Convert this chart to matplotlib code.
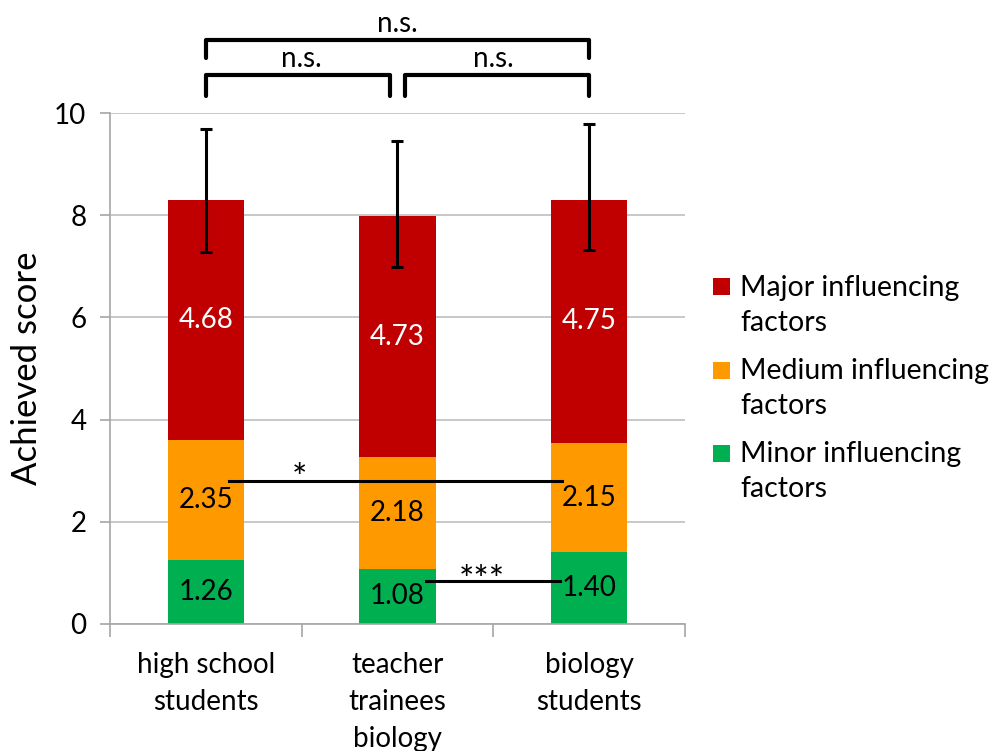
import matplotlib
matplotlib.use("Agg")
import matplotlib.pyplot as plt
from matplotlib.patches import Rectangle
import numpy as np

plt.rcParams['font.family'] = ['Lato', 'DejaVu Sans']

categories = ["high school\nstudents", "teacher\ntrainees\nbiology", "biology\nstudents"]
minor = [1.26, 1.08, 1.40]
medium = [2.35, 2.18, 2.15]
major = [4.68, 4.73, 4.75]
err_low = [1.01, 1.00, 0.99]
err_high = [1.40, 1.47, 1.49]
series_names = ["Major influencing\nfactors", "Medium influencing\nfactors", "Minor influencing\nfactors"]
colors = {"major": "#C00000", "medium": "#FF9900", "minor": "#00B050"}

fig = plt.figure(figsize=(9.94, 7.51), dpi=100)
ax = fig.add_axes([110/994, 1-624/751, 575/994, 511/751])

x = np.arange(len(categories))
w = 0.40
b1 = ax.bar(x, minor, w, color=colors["minor"], zorder=2)
bottom2 = np.array(minor)
b2 = ax.bar(x, medium, w, bottom=bottom2, color=colors["medium"], zorder=2)
bottom3 = bottom2 + np.array(medium)
b3 = ax.bar(x, major, w, bottom=bottom3, color=colors["major"], zorder=2)
totals = bottom3 + np.array(major)

ax.errorbar(x, totals, yerr=[err_low, err_high], fmt='none', ecolor='black',
            elinewidth=2.2, capsize=4, capthick=2.2, zorder=4)

fs = 20
for i in range(len(x)):
    ax.text(x[i], minor[i]/2, f"{minor[i]:.2f}", ha='center', va='center', fontsize=fs, color='black', zorder=5)
    ax.text(x[i], bottom2[i] + medium[i]/2, f"{medium[i]:.2f}", ha='center', va='center', fontsize=fs, color='black', zorder=5)
    ax.text(x[i], bottom3[i] + major[i]/2, f"{major[i]:.2f}", ha='center', va='center', fontsize=fs, color='white', zorder=5)

ax.set_xlim(-0.5, 2.5)
ax.set_ylim(0, 10)
ax.set_yticks([0, 2, 4, 6, 8, 10])
ax.yaxis.grid(True, color='#BFBFBF', linewidth=1.2, zorder=0)
ax.set_axisbelow(True)
for s in ['top', 'right']:
    ax.spines[s].set_visible(False)
for s in ['left', 'bottom']:
    ax.spines[s].set_color('#A6A6A6')
    ax.spines[s].set_linewidth(1.2)
ax.set_xticks([-0.5, 0.5, 1.5, 2.5])
ax.set_xticklabels([])
ax.tick_params(axis='x', which='major', length=9, color='#A6A6A6', width=1.2)
ax.tick_params(axis='y', length=7, color='#A6A6A6', width=1.2, labelsize=20, pad=10)
for i, c in enumerate(categories):
    ax.text(x[i], -0.55, c, ha='center', va='top', fontsize=20, linespacing=1.52,
            transform=ax.transData, clip_on=False)
ax.set_ylabel("Achieved score", fontsize=25, labelpad=8)

# significance lines inside plot
ax.plot([0.12, 1.86], [2.80, 2.80], color='black', lw=2.2, zorder=6)
ax.text(0.49, 2.82, "*", ha='center', va='center', fontsize=26, zorder=6)
ax.plot([1.15, 1.85], [0.84, 0.84], color='black', lw=2.2, zorder=6)
ax.text(1.44, 0.84, "***", ha='center', va='center', fontsize=26, zorder=6)

# brackets above
def bracket(x0, x1, ytop, ybot):
    ax.plot([x0, x0, x1, x1], [ybot, ytop, ytop, ybot], color='black', lw=3,
            clip_on=False, solid_joinstyle='round', solid_capstyle='round')

bracket(0.0, 1.0 - 0.04, 10.74, 10.33)
bracket(1.0 + 0.04, 2.0, 10.74, 10.33)
bracket(0.0, 2.0, 11.43, 11.08)
ax.text(0.5, 10.80, "n.s.", ha='center', va='bottom', fontsize=20, clip_on=False)
ax.text(1.5, 10.80, "n.s.", ha='center', va='bottom', fontsize=20, clip_on=False)
ax.text(1.0, 11.49, "n.s.", ha='center', va='bottom', fontsize=20, clip_on=False)

# legend (manual, marker aligned with first text line)
W, H = 994, 751
leg_colors = [colors["major"], colors["medium"], colors["minor"]]
first_line_y = [287, 370, 453]
for name, col, yy in zip(series_names, leg_colors, first_line_y):
    fig.patches.append(Rectangle((713/W, 1-(yy+8.5)/H), 17/W, 17/H, transform=fig.transFigure,
                                 facecolor=col, edgecolor='none'))
    fig.text(740/W, 1-(yy-12)/H, name, ha='left', va='top', fontsize=20.5, linespacing=1.45)

fig.savefig("out.png", dpi=100)
